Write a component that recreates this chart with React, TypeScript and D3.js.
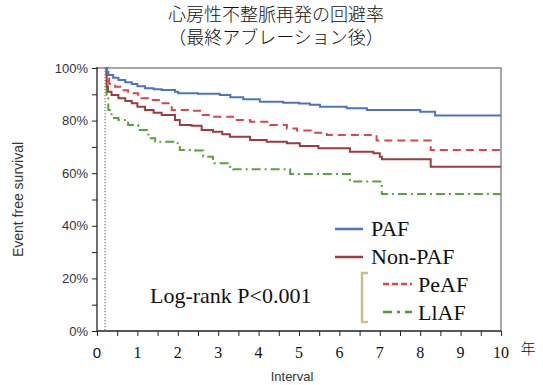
import React, { useRef, useEffect } from "react";
import * as d3 from "d3";

// Kaplan-Meier step curves (time in years, survival in %)
const pafTime = [0.22, 0.25, 0.28, 0.4, 0.53, 0.7, 0.86, 1.0, 1.19, 1.4, 1.6, 1.93, 2.01, 2.5, 3.04, 3.3, 3.62, 4.03, 4.61, 5.0, 5.27, 5.52, 6.18, 6.68, 8.0, 8.37, 10];
const pafSurv = [100, 98.5, 97.3, 96.3, 95.4, 94.6, 93.9, 93.1, 92.3, 91.9, 91.6, 91, 90.4, 90.2, 89.7, 88.9, 88.1, 87.2, 86.8, 86.5, 86, 85.3, 84.7, 84, 83.4, 81.9, 81.9];

const nonPafTime = [0.22, 0.24, 0.27, 0.36, 0.53, 0.7, 0.86, 1.0, 1.19, 1.4, 1.6, 1.93, 2.05, 2.34, 2.59, 2.87, 3.1, 3.29, 3.79, 4.2, 4.7, 5.02, 5.48, 6.26, 6.84, 7.0, 7.05, 8.26, 10];
const nonPafSurv = [100, 93, 91, 89.7, 88.5, 87.5, 86.6, 85.3, 84, 83, 82.1, 80.2, 78.3, 78, 76.4, 75.8, 74.8, 73.9, 72.6, 72, 71.4, 70.3, 69.5, 68.2, 67.6, 66.3, 65.3, 62.5, 62.5];

const peafTime = [0.22, 0.24, 0.3, 0.45, 0.6, 0.77, 1.02, 1.27, 1.6, 1.85, 2.34, 2.59, 2.87, 3.37, 3.79, 4.28, 4.7, 4.95, 5.3, 5.69, 6.92, 8.26, 10];
const peafSurv = [100, 96, 94, 92.9, 91.5, 90.4, 88.5, 87.8, 86.6, 84, 83.7, 82.1, 81.5, 80.2, 79.6, 78.3, 77, 76.2, 75.4, 74.5, 72.4, 68.8, 68.8];

const llafTime = [0.22, 0.24, 0.28, 0.36, 0.53, 0.77, 1.02, 1.27, 1.44, 1.93, 2.05, 2.43, 2.63, 2.87, 3.29, 3.37, 4.78, 6.26, 7.05, 10];
const llafSurv = [100, 89.7, 84, 81, 80.2, 78.3, 76.4, 73.3, 72, 71.4, 68.8, 68.6, 66.3, 63.8, 62.5, 61.5, 59.7, 56.8, 52.1, 52.1];

const blankingEnd = 0.2;
const yMajorTicks = [0, 0.2, 0.4, 0.6, 0.8, 1];
const yMinorTicks = [0.1, 0.3, 0.5, 0.7, 0.9];
const xTickValues = d3.range(0, 10.01, 0.5);
const xLabels = ["0", "1", "2", "3", "4", "5", "6", "7", "8", "9", "10"];

const titleLines = ["心房性不整脈再発の回避率", "（最終アブレーション後）"];

const App = () => {
  const svgRef = useRef<SVGSVGElement>(null);

  useEffect(() => {
    const svg = d3.select(svgRef.current);
    svg.selectAll("*").remove();

    const x = d3.scaleLinear().domain([0, 10]).range([97, 501]);
    const y = d3.scaleLinear().domain([0, 1]).range([331, 68]);

    // title
    svg
      .selectAll(".title")
      .data(titleLines)
      .enter()
      .append("text")
      .attr("x", 276)
      .attr("y", (d, i) => 21 + i * 23)
      .attr("text-anchor", "middle")
      .attr("font-family", "'Noto Sans CJK JP'")
      .attr("font-weight", 300)
      .attr("font-size", 18)
      .attr("fill", "#111")
      .text((d) => d);

    // frame (top/right)
    svg
      .append("path")
      .attr("d", `M${x(0)},${y(1)}H${x(10)}V${y(0)}`)
      .attr("fill", "none")
      .attr("stroke", "#8a8a8a")
      .attr("stroke-width", 1.5);

    // y axis
    const yAxis = svg.append("g").attr("transform", `translate(${x(0)},0)`);
    yAxis.call(
      d3.axisLeft(y).tickValues(yMajorTicks).tickSize(5).tickPadding(4).tickFormat(d3.format(".0%"))
    );
    yAxis.append("g").call(d3.axisLeft(y).tickValues(yMinorTicks).tickSize(5).tickFormat(() => ""));
    yAxis.selectAll(".domain").remove();
    yAxis.selectAll("g.tick line").attr("stroke", "#222");
    yAxis
      .selectAll("text")
      .attr("font-family", "'Liberation Sans', Arial, sans-serif")
      .attr("font-size", 13)
      .attr("fill", "#333");
    svg
      .append("line")
      .attr("x1", x(0))
      .attr("x2", x(0))
      .attr("y1", y(1) - 1)
      .attr("y2", y(0))
      .attr("stroke", "#222")
      .attr("stroke-width", 1.3);

    // x axis
    const xAxis = svg.append("g").attr("transform", `translate(0,${y(0)})`);
    xAxis.call(d3.axisBottom(x).tickValues(xTickValues).tickSize(5).tickFormat(() => ""));
    xAxis.selectAll(".domain").remove();
    xAxis.selectAll("line").attr("stroke", "#222");
    svg
      .append("line")
      .attr("x1", x(0))
      .attr("x2", x(10))
      .attr("y1", y(0))
      .attr("y2", y(0))
      .attr("stroke", "#222")
      .attr("stroke-width", 1.3);
    svg
      .selectAll(".xlab")
      .data(xLabels)
      .enter()
      .append("text")
      .attr("x", (d, i) => x(i))
      .attr("y", 358)
      .attr("text-anchor", "middle")
      .attr("font-family", (d, i) => (i === 0 ? "'Liberation Sans', Arial, sans-serif" : "'Liberation Serif', 'Times New Roman', serif"))
      .attr("font-size", (d, i) => (i === 0 ? 15 : 16))
      .attr("fill", "#111")
      .text((d) => d);

    svg
      .append("text")
      .attr("x", 528)
      .attr("y", 354)
      .attr("text-anchor", "middle")
      .attr("font-family", "'Noto Sans CJK JP'")
      .attr("font-weight", 300)
      .attr("font-size", 15)
      .attr("fill", "#111")
      .text("年");

    svg
      .append("text")
      .attr("x", 292)
      .attr("y", 381)
      .attr("text-anchor", "middle")
      .attr("font-family", "'Liberation Sans', Arial, sans-serif")
      .attr("font-size", 13)
      .attr("fill", "#333")
      .text("Interval");

    svg
      .append("text")
      .attr("transform", `translate(23,${(y(0) + y(1)) / 2}) rotate(-90)`)
      .attr("text-anchor", "middle")
      .attr("font-family", "'Liberation Sans', Arial, sans-serif")
      .attr("font-size", 14)
      .attr("fill", "#333")
      .text("Event free survival");

    // blanking period line
    svg
      .append("line")
      .attr("x1", x(blankingEnd))
      .attr("x2", x(blankingEnd))
      .attr("y1", y(1))
      .attr("y2", y(0))
      .attr("stroke", "#777")
      .attr("stroke-width", 1.2)
      .attr("stroke-dasharray", "1.2,1.8");

    // curves
    const series = [
      { t: llafTime, s: llafSurv, color: "#5aa23c", dash: "9,4,2,4" },
      { t: peafTime, s: peafSurv, color: "#d8474a", dash: "8,5" },
      { t: nonPafTime, s: nonPafSurv, color: "#9c3b40", dash: null },
      { t: pafTime, s: pafSurv, color: "#4e73c3", dash: null },
    ];
    const line = d3
      .line<[number, number]>()
      .x((d) => x(d[0]))
      .y((d) => y(d[1] / 100))
      .curve(d3.curveStepAfter);

    series.forEach((sr) => {
      const pts = sr.t.map((t, i) => [t, sr.s[i]] as [number, number]);
      svg
        .append("path")
        .attr("d", line(pts))
        .attr("fill", "none")
        .attr("stroke", sr.color)
        .attr("stroke-width", 2)
        .attr("stroke-dasharray", sr.dash);
    });

    // log-rank
    svg
      .append("text")
      .attr("x", 150)
      .attr("y", 303)
      .attr("font-family", "'Liberation Serif', 'Times New Roman', serif")
      .attr("font-size", 22)
      .attr("fill", "#111")
      .text("Log-rank P<0.001");

    // legend
    const legend = [
      { label: "PAF", color: "#4e73c3", dash: null, x1: 335, x2: 363, ly: 229, tx: 371, ty: 236 },
      { label: "Non-PAF", color: "#9c3b40", dash: null, x1: 335, x2: 363, ly: 257, tx: 371, ty: 264 },
      { label: "PeAF", color: "#e04548", dash: "6,3", x1: 383, x2: 412, ly: 284, tx: 418, ty: 292 },
      { label: "LlAF", color: "#4f9a34", dash: "9,5,3,5", x1: 383, x2: 412, ly: 312, tx: 418, ty: 320 },
    ];
    legend.forEach((l) => {
      svg
        .append("line")
        .attr("x1", l.x1)
        .attr("x2", l.x2)
        .attr("y1", l.ly)
        .attr("y2", l.ly)
        .attr("stroke", l.color)
        .attr("stroke-width", 2.5)
        .attr("stroke-dasharray", l.dash);
      svg
        .append("text")
        .attr("x", l.tx)
        .attr("y", l.ty)
        .attr("font-family", "'Liberation Serif', 'Times New Roman', serif")
        .attr("font-size", 22)
        .attr("fill", "#111")
        .text(l.label);
    });

    // bracket grouping PeAF / LlAF
    svg
      .append("path")
      .attr("d", "M368,273H362V322H368")
      .attr("fill", "none")
      .attr("stroke", "#c9bc94")
      .attr("stroke-width", 2.5);
  }, []);

  return <svg ref={svgRef} width={543} height={385} style={{ position: "absolute", left: 0, top: 0 }}></svg>;
};

export default App;
